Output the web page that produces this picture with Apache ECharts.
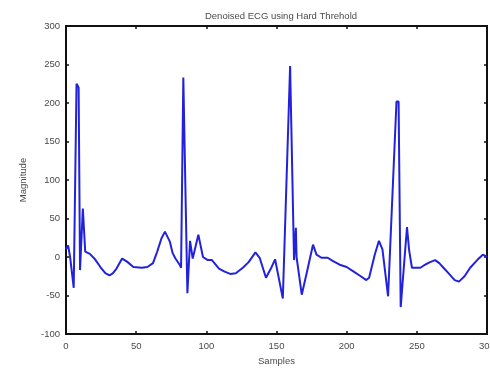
<!DOCTYPE html>
<html>
<head>
<meta charset="utf-8">
<script src="https://cdn.jsdelivr.net/npm/echarts@6/dist/echarts.min.js"></script>
<style>html,body{margin:0;padding:0;background:#fff;}#c{width:490px;height:370px;}</style>
</head>
<body>
<div id="c"></div>
<script>
var titleText = "Denoised ECG using Hard Threhold";
var xName = "Samples";
var yName = "Magnitude";
var xTicks = [0, 50, 100, 150, 200, 250, 300];
var yTicks = [-100, -50, 0, 50, 100, 150, 200, 250, 300];
var samples = [0, 1.5, 3, 5.5, 7.5, 9, 10, 12, 13.7, 17, 20.7, 24.5, 28, 31, 33.5, 36, 40, 43.5, 48, 54, 58, 62, 65, 68, 70.5, 74, 76, 78, 81, 82, 83.6, 86.5, 88.4, 90.3, 94.3, 97.6, 101, 104, 109, 113, 117, 121, 126, 130, 135, 138, 142.5, 146, 149, 154.5, 159.7, 162.5, 163.8, 164.3, 168, 172, 176, 178.5, 182, 186.5, 190, 195, 200, 205, 210, 214, 216, 220, 223, 225.5, 229.5, 235.5, 237, 238.5, 243, 244.5, 246.5, 252.5, 255, 259, 263, 266, 269, 273, 277, 280, 284, 288, 293, 297, 300];
var magnitude = [10, 15, -1, -40, 225, 220, -17, 63, 7, 4, -3, -13, -21, -24, -21, -15, -2, -6, -13, -14, -13, -8, 7, 24, 33, 20, 5, -2, -10, -14, 233, -47, 21, -2, 29, 0, -4, -4, -15, -19, -22, -21, -14, -7, 6, -1, -27, -15, -3, -54, 248, -4, 38, 0, -49, -17, 16, 3, -1, -1, -5, -10, -13, -19, -25, -30, -27, 3, 21, 10, -51, 202, 202, -65, 39, 9, -14, -14, -11, -7, -4, -8, -14, -22, -30, -32, -25, -14, -4, 3, 0];

var pts = samples.map(function (s, i) { return [s, magnitude[i]]; });
var labelStyle = { fontFamily: 'Liberation Sans, Arial, sans-serif', fontSize: 9.5, color: '#4a4a4a' };
var tickStyle = { show: true, inside: true, length: 3, lineStyle: { color: '#111', width: 1.5 } };
var chart = echarts.init(document.getElementById('c'), null, { renderer: 'canvas' });
chart.setOption({
  animation: false,
  backgroundColor: '#fff',
  title: {
    text: titleText, left: 276, top: 6, textAlign: 'center',
    textStyle: { fontFamily: 'Liberation Sans, Arial, sans-serif', fontSize: 9.5, fontWeight: 'normal', color: '#4a4a4a' }
  },
  grid: { left: 66, right: 3, top: 26, bottom: 36, show: true, borderColor: '#111', borderWidth: 2, backgroundColor: '#fff', outerBoundsMode: 'none', containLabel: false },
  xAxis: [{
    type: 'value', min: xTicks[0], max: xTicks[xTicks.length - 1], interval: 50,
    name: xName, nameLocation: 'middle', nameGap: 20, nameTextStyle: labelStyle,
    axisLine: { show: false, onZero: false }, axisTick: tickStyle,
    axisLabel: Object.assign({ margin: 7 }, labelStyle), splitLine: { show: false }
  }, {
    type: 'value', position: 'top', min: xTicks[0], max: xTicks[xTicks.length - 1], interval: 50,
    axisLine: { show: false, onZero: false }, axisTick: tickStyle,
    axisLabel: { show: false }, splitLine: { show: false }
  }],
  yAxis: [{
    type: 'value', min: yTicks[0], max: yTicks[yTicks.length - 1], interval: 50,
    name: yName, nameLocation: 'middle', nameGap: 38, nameRotate: 90, nameTextStyle: labelStyle,
    axisLine: { show: false, onZero: false }, axisTick: tickStyle,
    axisLabel: Object.assign({ margin: 6 }, labelStyle), splitLine: { show: false }
  }, {
    type: 'value', position: 'right', min: yTicks[0], max: yTicks[yTicks.length - 1], interval: 50,
    axisLine: { show: false, onZero: false }, axisTick: tickStyle,
    axisLabel: { show: false }, splitLine: { show: false }
  }],
  series: [{
    type: 'line', data: pts, showSymbol: false, symbol: 'none',
    lineStyle: { color: '#2222dd', width: 2 }, clip: true
  }]
});
</script>
</body>
</html>
